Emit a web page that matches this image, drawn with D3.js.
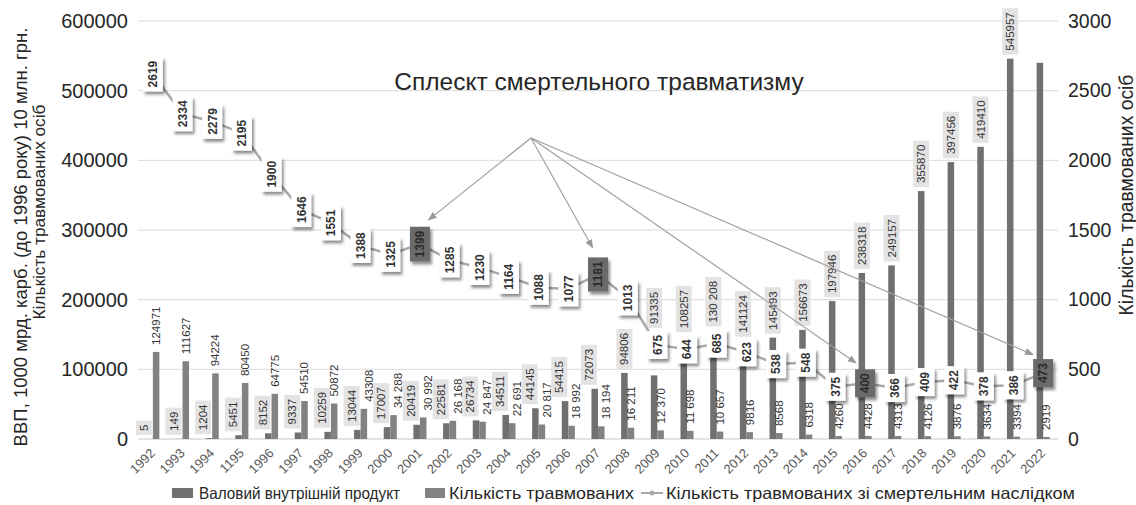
<!DOCTYPE html>
<meta charset="utf-8">
<style>
  body { margin: 0; background: #fff; }
  text { font-family: "Liberation Sans", Arial, sans-serif; }
</style>
<body>
<script src="https://d3js.org/d3.v7.min.js"></script>
<script>
  // categories and tick labels (the original prints 1995 as "1195")
  var years = d3.range(1992, 2023);
  var yearLabels = ["1992", "1993", "1994", "1195", "1996", "1997", "1998", "1999", "2000", "2001",
    "2002", "2003", "2004", "2005", "2006", "2007", "2008", "2009", "2010", "2011", "2012",
    "2013", "2014", "2015", "2016", "2017", "2018", "2019", "2020", "2021", "2022"];

  // GDP (1000 bn karb. before 1996, 10 mln UAH after)
  var gdp = [5, 149, 1204, 5451, 8152, 9337, 10259, 13044, 17007, 20419, 22581, 26734, 34511,
    44145, 54415, 72073, 94806, 91335, 108257, 130208, 141124, 145493, 156673, 197946,
    238318, 249157, 355870, 397456, 419410, 545957, 540000];
  var gdpLabels = ["5", "149", "1204", "5451", "8152", "9337", "10259", "13044", "17007", "20419",
    "22581", "26734", "34511", "44145", "54415", "72073", "94806", "91335", "108257", "130 208",
    "141124", "145493", "156673", "197946", "238318", "249157", "355870", "397456", "419410",
    "545957", ""];

  // injured persons
  var injured = [124971, 111627, 94224, 80450, 64775, 54510, 50872, 43308, 34288, 30992, 26168,
    24847, 22691, 20817, 18992, 18194, 16211, 12370, 11698, 10657, 9816, 8568, 6318, 4260,
    4428, 4313, 4126, 3876, 3634, 3394, 2919];
  var injuredLabels = ["124971", "111627", "94224", "80450", "64775", "54510", "50872", "43308",
    "34 288", "30 992", "26 168", "24 847", "22 691", "20 817", "18 992", "18 194", "16 211",
    "12 370", "11 698", "10 657", "9816", "8568", "6318", "4260", "4428", "4313", "4126",
    "3876", "3634", "3394", "2919"];

  // injured with fatal outcome (right axis)
  var fatal = [2619, 2334, 2279, 2195, 1900, 1646, 1551, 1388, 1325, 1399, 1285, 1230, 1164,
    1088, 1077, 1181, 1013, 675, 644, 685, 623, 538, 548, 375, 400, 366, 409, 422, 378, 386, 473];

  // years pointed at by the "spike" annotation
  var spikeYears = [2001, 2007, 2016, 2022];

  var W = 1136, H = 505;
  var margin = { top: 21, right: 78, bottom: 66, left: 138 },
    width = W - margin.left - margin.right,
    height = H - margin.top - margin.bottom;

  var svg = d3.select("body").append("svg")
    .attr("width", W)
    .attr("height", H);

  var defs = svg.append("defs");
  var f = defs.append("filter").attr("id", "shadow")
    .attr("x", "-50%").attr("y", "-50%").attr("width", "200%").attr("height", "200%");
  f.append("feDropShadow").attr("dx", 2).attr("dy", 3).attr("stdDeviation", 1.6)
    .attr("flood-color", "#000").attr("flood-opacity", 0.45);
  defs.append("marker").attr("id", "arrow")
    .attr("viewBox", "0 0 10 10").attr("refX", 9).attr("refY", 5)
    .attr("markerWidth", 9).attr("markerHeight", 9).attr("markerUnits", "userSpaceOnUse")
    .attr("orient", "auto")
    .append("path").attr("d", "M0,1L10,5L0,9Z").attr("fill", "#999");

  var g = svg.append("g")
    .attr("transform", "translate(" + margin.left + "," + margin.top + ")");

  var x = d3.scaleBand().domain(years).range([0, width]);
  var y = d3.scaleLinear().domain([0, 600000]).range([height, 0]);
  var y2 = d3.scaleLinear().domain([0, 3000]).range([height, 0]);
  function cx(i) { return x(years[i]) + x.bandwidth() / 2; }

  // layers, bottom to top
  var gridLayer = g.append("g");
  var barLayer = g.append("g");
  var injLayer = g.append("g");
  var gdpLayer = g.append("g");
  var lineLayer = g.append("g");
  var fatalLayer = g.append("g");
  var noteLayer = g.append("g");

  // gridlines
  gridLayer.selectAll("line")
    .data(y.ticks(6))
    .join("line")
    .attr("x1", 0).attr("x2", width)
    .attr("y1", function (d) { return y(d); })
    .attr("y2", function (d) { return y(d); })
    .attr("stroke", function (d) { return d === 0 ? "#c8c8c8" : "#dadada"; })
    .attr("stroke-width", 1);

  // left axis
  var ax = g.append("g")
    .call(d3.axisLeft(y).ticks(6).tickSize(0).tickPadding(10).tickFormat(d3.format("d")));
  ax.select(".domain").remove();
  ax.selectAll("text").attr("font-size", 20).attr("fill", "#262626")
    .attr("font-family", "Liberation Sans, Arial, sans-serif");

  // right axis
  var ax2 = g.append("g")
    .attr("transform", "translate(" + width + ",0)")
    .call(d3.axisRight(y2).ticks(6).tickSize(0).tickPadding(10).tickFormat(d3.format("d")));
  ax2.select(".domain").remove();
  ax2.selectAll("text").attr("font-size", 19.5).attr("fill", "#262626")
    .attr("font-family", "Liberation Sans, Arial, sans-serif");

  // year labels
  g.append("g").selectAll("text")
    .data(yearLabels)
    .join("text")
    .attr("transform", function (d, i) {
      return "translate(" + (cx(i) + 3) + "," + (height + 15) + ") rotate(-45)";
    })
    .attr("text-anchor", "end")
    .attr("font-size", 13)
    .attr("fill", "#595959")
    .text(function (d) { return d; });

  // bars
  var bw = x.bandwidth() * 0.22;
  barLayer.append("g").selectAll("rect")
    .data(gdp)
    .join("rect")
    .attr("x", function (d, i) { return cx(i) - bw; })
    .attr("width", bw)
    .attr("y", function (d) { return y(d); })
    .attr("height", function (d) { return height - y(d); })
    .attr("fill", "#707070");

  barLayer.append("g").selectAll("rect")
    .data(injured)
    .join("rect")
    .attr("x", function (d, i) { return cx(i); })
    .attr("width", bw)
    .attr("y", function (d) { return y(d); })
    .attr("height", function (d) { return height - y(d); })
    .attr("fill", "#828282");

  // fatal line
  var line = d3.line()
    .x(function (d, i) { return cx(i); })
    .y(function (d) { return y2(d); });
  lineLayer.append("path")
    .datum(fatal)
    .attr("d", line)
    .attr("fill", "none")
    .attr("stroke", "#a8a8a8")
    .attr("stroke-width", 2.5);
  lineLayer.append("g").selectAll("circle")
    .data(fatal)
    .join("circle")
    .attr("cx", function (d, i) { return cx(i); })
    .attr("cy", function (d) { return y2(d); })
    .attr("r", 2.5)
    .attr("fill", "#a8a8a8");

  // fatal labels in shadowed boxes
  var boxTop = [];
  var fl = fatalLayer.selectAll("g")
    .data(fatal)
    .join("g")
    .attr("transform", function (d, i) {
      return "translate(" + cx(i) + "," + y2(d) + ")";
    });
  fl.append("rect")
    .attr("filter", "url(#shadow)")
    .attr("fill", function (d, i) { return spikeYears.indexOf(years[i]) >= 0 ? "#6b6b6b" : "#fff"; });
  fl.append("text")
    .attr("transform", "rotate(-90)")
    .attr("text-anchor", "middle")
    .attr("dy", "0.36em")
    .attr("font-size", 12)
    .attr("font-weight", "bold")
    .attr("fill", function (d, i) { return spikeYears.indexOf(years[i]) >= 0 ? "#2b2b2b" : "#333"; })
    .text(function (d) { return d; });
  fl.each(function (d, i) {
    var len = d3.select(this).select("text").node().getComputedTextLength();
    var h = len + 8;
    d3.select(this).select("rect")
      .attr("x", -10).attr("width", 20)
      .attr("y", -h / 2).attr("height", h);
    boxTop[i] = y2(d) - h / 2;
  });

  // injured labels
  var il = injLayer.selectAll("text")
    .data(injured)
    .join("text")
    .attr("font-size", 11.5)
    .attr("fill", "#333")
    .text(function (d, i) { return injuredLabels[i]; });
  var injTop = il.nodes().map(function (n, i) {
    return y(injured[i]) - 7 - n.getComputedTextLength();
  });

  // GDP labels in light boxes; moved aside where they would meet the injured label,
  // lifted above the fatal box where they would hide behind it
  var crowded = gdp.map(function (d, i) { return y(d) - 4 > injTop[i]; });
  il.attr("transform", function (d, i) {
    var bx = crowded[i] && i > 6 ? cx(i) + 12 : cx(i) + bw / 2 + 4;
    return "translate(" + bx + "," + (y(d) - 7) + ") rotate(-90)";
  });

  var gl = gdpLayer.selectAll("g")
    .data(gdp)
    .join("g")
    .filter(function (d, i) { return gdpLabels[i] !== ""; });
  gl.append("rect").attr("fill", "#e3e3e3");
  gl.append("text")
    .attr("transform", "rotate(-90)")
    .attr("font-size", 11.5)
    .attr("fill", "#333")
    .attr("dy", "0.35em")
    .attr("x", 4)
    .text(function (d) { return gdpLabels[gdp.indexOf(d)]; });
  gl.each(function (d) {
    var i = gdp.indexOf(d);
    var len = d3.select(this).select("text").node().getComputedTextLength();
    var h = len + 8;
    var bottom = y(d) - 4;
    var fBottom = 2 * y2(fatal[i]) - boxTop[i];
    if (bottom > boxTop[i] && bottom - h < fBottom && i > 15) bottom = boxTop[i] - 3;
    var bx = crowded[i] ? cx(i) - 9 : cx(i) - bw / 2;
    d3.select(this).attr("transform", "translate(" + bx + "," + bottom + ")");
    d3.select(this).select("rect")
      .attr("x", -8).attr("width", 16)
      .attr("y", -h).attr("height", h);
  });

  // annotation title and arrows
  var origin = [531 - margin.left, 138 - margin.top];
  noteLayer.append("text")
    .attr("x", 599 - margin.left)
    .attr("y", 90 - margin.top)
    .attr("text-anchor", "middle")
    .attr("font-size", 24.5)
    .attr("fill", "#262626")
    .text("Сплескт смертельного травматизму");

  noteLayer.append("g").selectAll("line")
    .data(spikeYears)
    .join("line")
    .each(function (yr) {
      var i = years.indexOf(yr);
      var tx = cx(i), ty = boxTop[i];
      var dx = tx - origin[0], dy = ty - origin[1];
      var L = Math.sqrt(dx * dx + dy * dy);
      d3.select(this)
        .attr("x1", origin[0]).attr("y1", origin[1])
        .attr("x2", tx - dx * 11 / L).attr("y2", ty - dy * 11 / L);
    })
    .attr("stroke", "#a0a0a0")
    .attr("stroke-width", 1.2)
    .attr("marker-end", "url(#arrow)");

  // axis titles, sized to the span they take in the original
  function vTitle(tx, ty, len, txt) {
    var t = svg.append("text")
      .attr("transform", "translate(" + tx + "," + ty + ") rotate(-90)")
      .attr("text-anchor", "middle")
      .attr("font-size", 16)
      .attr("fill", "#262626")
      .text(txt);
    t.attr("font-size", 16 * len / t.node().getComputedTextLength());
  }
  vTitle(27, 237, 419, "ВВП, 1000 мрд. карб. (до 1996 року) 10 млн. грн.");
  vTitle(45, 212, 215, "Кількість травмованих осіб");
  vTitle(1133, 195, 241, "Кількість травмованих осіб");

  // legend
  var lg = svg.append("g").attr("font-size", 16.5).attr("fill", "#262626");
  lg.append("rect").attr("x", 172).attr("y", 488).attr("width", 21).attr("height", 10).attr("fill", "#707070");
  lg.append("text").attr("x", 199).attr("y", 499)
    .attr("textLength", 201).attr("lengthAdjust", "spacingAndGlyphs")
    .text("Валовий внутрішній продукт");
  lg.append("rect").attr("x", 425).attr("y", 488).attr("width", 20).attr("height", 10).attr("fill", "#828282");
  lg.append("text").attr("x", 449).attr("y", 499)
    .attr("textLength", 185).attr("lengthAdjust", "spacingAndGlyphs")
    .text("Кількість травмованих");
  lg.append("line").attr("x1", 641).attr("x2", 663).attr("y1", 493).attr("y2", 493)
    .attr("stroke", "#a8a8a8").attr("stroke-width", 2);
  lg.append("circle").attr("cx", 652).attr("cy", 493).attr("r", 2.5).attr("fill", "#a8a8a8");
  lg.append("text").attr("x", 666).attr("y", 499)
    .attr("textLength", 409).attr("lengthAdjust", "spacingAndGlyphs")
    .text("Кількість травмованих зі смертельним наслідком");
</script>
</body>
